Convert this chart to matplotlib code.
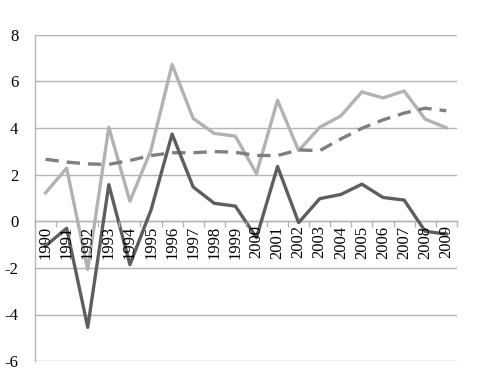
import numpy as np
import matplotlib.pyplot as plt
from matplotlib.ticker import FixedLocator

# -------------------------------
# Data
# -------------------------------
years = [str(y) for y in range(1990, 2010)]
light_series = [1.22, 2.28, -2.07, 4.03, 0.86, 3.05, 6.72, 4.41, 3.77, 3.65,
                2.04, 5.19, 3.03, 4.03, 4.52, 5.55, 5.29, 5.59, 4.38, 4.01]
dark_series = [-1.06, -0.30, -4.55, 1.57, -1.86, 0.48, 3.74, 1.47, 0.77, 0.65,
               -0.70, 2.35, -0.06, 0.97, 1.15, 1.59, 1.02, 0.91, -0.43, -0.55]
trend_series = [2.66, 2.54, 2.46, 2.44, 2.61, 2.82, 2.94, 2.94, 2.99, 2.96,
                2.82, 2.82, 3.06, 3.03, 3.53, 3.99, 4.35, 4.64, 4.85, 4.74]
y_ticks = [-6, -4, -2, 0, 2, 4, 6, 8]

plt.rcParams['font.family'] = ['Liberation Serif', 'DejaVu Serif']

fig = plt.figure(figsize=(4.86, 3.70), dpi=100)
ax = fig.add_axes([0.072, 0.024, 0.868, 0.882])

x = np.arange(len(years))
grid_col = '#b4b4b4'

for t in y_ticks:
    ax.axhline(t, color=grid_col, lw=1.0, zorder=0)

ax.plot(x, light_series, color='#b2b2b2', lw=2.4, zorder=3)
ax.plot(x, trend_series, color='#7f7f7f', lw=2.4, ls=(0, (4, 2.4)), zorder=3)
ax.plot(x, dark_series, color='#5e5e5e', lw=2.4, zorder=4)

ax.set_xlim(-0.5, len(years) - 0.5)
ax.set_ylim(-6, 8)

# axis crossing at zero, labels rotated just under it
for s in ['top', 'right']:
    ax.spines[s].set_visible(False)
ax.spines['left'].set_color(grid_col)
ax.spines['left'].set_linewidth(1.0)
ax.spines['bottom'].set_position(('data', 0))
ax.spines['bottom'].set_color(grid_col)
ax.spines['bottom'].set_linewidth(1.0)

ax.xaxis.set_major_locator(FixedLocator(np.arange(-0.5, len(years), 1.0)))
ax.xaxis.set_minor_locator(FixedLocator(x))
ax.set_xticklabels([])
ax.set_xticklabels(years, minor=True, rotation=90, fontsize=12)
ax.tick_params(axis='x', which='major', length=4, color=grid_col, width=1.0)
ax.tick_params(axis='x', which='minor', length=0, pad=3)
ax.xaxis.set_zorder(5)  # year labels sit on top of the lines

ax.set_yticks(y_ticks)
ax.set_yticklabels([str(t) for t in y_ticks], fontsize=12)
ax.tick_params(axis='y', length=0, pad=12)

fig.savefig('out.png', dpi=100)
